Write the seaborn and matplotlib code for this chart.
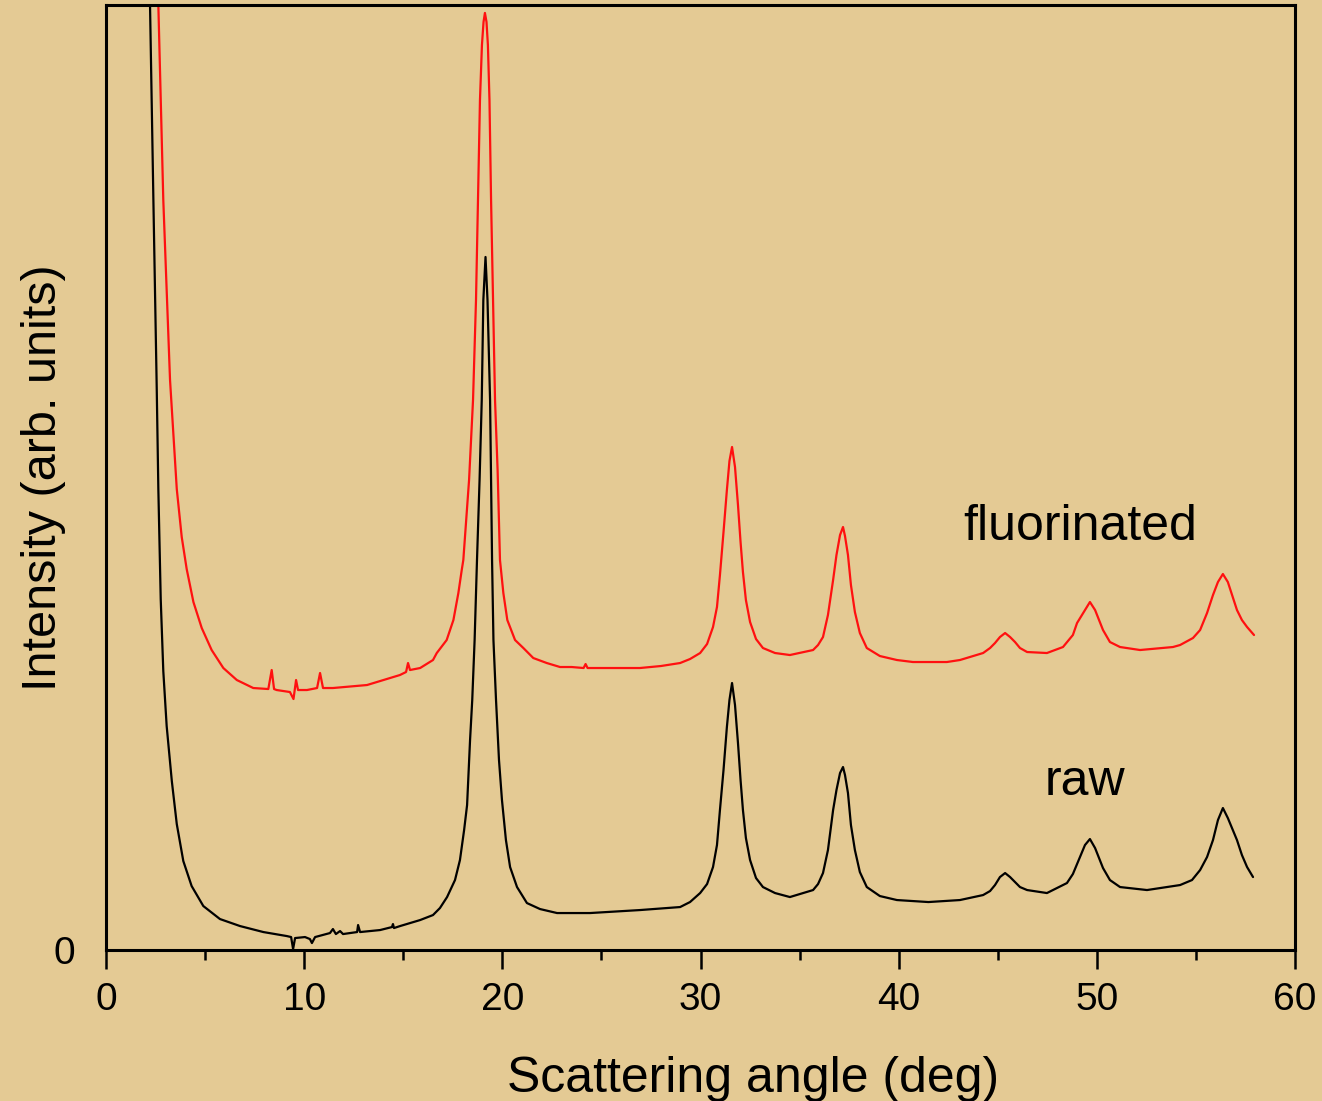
import matplotlib
matplotlib.use("Agg")
import matplotlib.pyplot as plt
import pandas as pd
import seaborn as sns
from matplotlib.ticker import MultipleLocator

# values (angle in deg, intensity in arb. units)
raw_angle = [2.19, 2.22, 2.39, 2.56, 2.64, 2.76, 2.89, 3.06, 3.32, 3.57, 3.90, 4.32,
             4.91, 5.75, 6.76, 7.94, 9.12, 9.34, 9.44, 9.54, 10.04, 10.29, 10.39, 10.55,
             11.30, 11.45, 11.60, 11.81, 11.96, 12.67, 12.72, 12.82, 13.83, 14.43, 14.48,
             14.53, 14.84, 15.85, 16.50, 16.85, 17.21, 17.61, 17.86, 18.07, 18.22, 18.37,
             18.48, 18.60, 18.72, 18.85, 18.96, 19.04, 19.15, 19.25, 19.38, 19.43, 19.48,
             19.55, 19.68, 19.83, 19.98, 20.18, 20.39, 20.74, 21.24, 21.90, 22.76, 24.42,
             26.95, 28.97, 29.47, 29.98, 30.33, 30.63, 30.83, 30.98, 31.16, 31.33, 31.46,
             31.59, 31.74, 31.89, 32.02, 32.14, 32.29, 32.50, 32.80, 33.15, 33.76, 34.51,
             35.68, 35.93, 36.18, 36.43, 36.69, 36.86, 37.04, 37.19, 37.29, 37.44, 37.59,
             37.79, 38.04, 38.39, 39.05, 39.91, 41.50, 43.09, 44.26, 44.61, 44.86, 45.11,
             45.37, 45.62, 45.87, 46.12, 46.48, 47.48, 48.49, 48.79, 49.15, 49.40, 49.65,
             49.91, 50.31, 50.66, 51.17, 52.53, 54.20, 54.80, 55.21, 55.56, 55.86, 56.11,
             56.36, 56.61, 57.07, 57.32, 57.58, 57.88]
raw_int = [980, 945, 750, 560, 461, 351, 279, 224, 169, 126, 89, 64,
           44, 31, 24, 18, 14, 13, 1, 12, 13, 11, 7, 13,
           17, 21, 16, 19, 16, 18, 25, 18, 20, 23, 26,
           22, 24, 30, 35, 42, 53, 70, 90, 120, 145, 210,
           250, 310, 390, 470, 550, 650, 693, 650, 550, 470, 390,
           310, 250, 190, 150, 110, 83, 63, 47, 41, 37, 37,
           40, 43, 48, 57, 66, 83, 105, 140, 180, 223, 250,
           267, 245, 207, 170, 140, 112, 90, 72, 63, 57, 53,
           60, 66, 77, 100, 140, 160, 177, 183, 175, 157, 125,
           100, 78, 63, 54, 50, 48, 50, 55, 59, 65, 73,
           77, 73, 68, 63, 60, 57, 67, 76, 93, 105, 111,
           102, 82, 70, 63, 60, 65, 70, 80, 93, 110, 130,
           142, 132, 110, 95, 83, 73]

fluor_angle = [2.62, 2.64, 2.89, 3.23, 3.40, 3.57, 3.82, 4.07, 4.41, 4.83, 5.33, 5.92,
               6.60, 7.43, 8.19, 8.36, 8.48, 8.61, 9.28, 9.46, 9.59, 9.69, 10.14, 10.65,
               10.80, 10.95, 11.45, 13.17, 14.83, 15.14, 15.24, 15.34, 15.85, 16.50, 16.69,
               17.19, 17.53, 17.78, 17.95, 18.03, 18.14, 18.32, 18.52, 18.67, 18.77, 18.87,
               18.97, 19.05, 19.12, 19.20, 19.27, 19.35, 19.43, 19.53, 19.63, 19.76, 19.88,
               20.05, 20.25, 20.64, 21.06, 21.56, 22.24, 22.91, 23.50, 24.10, 24.20, 24.30,
               26.94, 28.00, 28.97, 29.47, 29.98, 30.33, 30.63, 30.83, 30.98, 31.16, 31.33,
               31.46, 31.59, 31.74, 31.89, 32.02, 32.14, 32.29, 32.50, 32.80, 33.15, 33.76,
               34.51, 35.68, 35.93, 36.18, 36.43, 36.69, 36.86, 37.04, 37.19, 37.29, 37.44,
               37.59, 37.79, 38.04, 38.39, 39.05, 39.91, 40.72, 42.43, 43.09, 44.26, 44.61,
               44.86, 45.11, 45.37, 45.62, 45.87, 46.12, 46.48, 47.48, 48.29, 48.79, 49.00,
               49.40, 49.65, 49.91, 50.31, 50.66, 51.17, 52.18, 53.84, 54.20, 54.85, 55.21,
               55.56, 55.86, 56.11, 56.36, 56.61, 57.07, 57.32, 57.58, 57.93]
fluor_int = [980, 945, 750, 570, 515, 461, 413, 381, 348, 322, 300, 282,
             270, 262, 261, 280, 261, 260, 258, 251, 270, 260, 260, 262,
             277, 262, 262, 265, 275, 278, 287, 280, 282, 290, 297,
             310, 330, 357, 380, 390, 420, 470, 550, 650, 750, 850,
             905, 928, 937, 928, 905, 850, 750, 650, 550, 480, 390,
             357, 330, 310, 302, 292, 287, 283, 283, 282, 286, 282,
             282, 284, 287, 291, 297, 306, 323, 343, 375, 418, 460,
             489, 503, 483, 445, 408, 378, 350, 328, 311, 302, 297,
             295, 300, 305, 313, 335, 370, 395, 415, 423, 414, 395,
             365, 338, 317, 302, 294, 290, 288, 288, 290, 297, 302,
             307, 313, 317, 313, 308, 302, 298, 297, 303, 315, 327,
             340, 348, 340, 320, 308, 303, 300, 303, 305, 312, 320,
             337, 355, 368, 376, 368, 340, 330, 323, 315]

raw = pd.DataFrame({"angle": raw_angle, "intensity": raw_int})
fluor = pd.DataFrame({"angle": fluor_angle, "intensity": fluor_int})

sns.set_theme(style="ticks")
plt.rcParams["font.family"] = ["Liberation Sans", "DejaVu Sans"]

bg = "#E4CA94"
fig = plt.figure(figsize=(13.22, 11.01), dpi=100, facecolor=bg)
ax = fig.add_axes([0.0802, 0.1371, 0.8994, 0.8584])
ax.set_facecolor(bg)

sns.lineplot(data=raw, x="angle", y="intensity", color="black", lw=1.6,
             estimator=None, sort=False, ax=ax)
sns.lineplot(data=fluor, x="angle", y="intensity", color="#FF1010", lw=1.6,
             estimator=None, sort=False, ax=ax)

ax.set_xlim(0, 60)
ax.set_ylim(0, 945)
ax.xaxis.set_major_locator(MultipleLocator(10))
ax.xaxis.set_minor_locator(MultipleLocator(5))
ax.set_yticks([0])
ax.tick_params(axis="x", which="major", direction="out", length=14, width=1.8,
               color="black", labelsize=28, pad=9, labelcolor="black")
ax.tick_params(axis="x", which="minor", direction="out", length=7, width=1.8,
               color="black")
ax.tick_params(axis="y", length=0, labelsize=28, pad=22, labelcolor="black")

for s in ax.spines.values():
    s.set_linewidth(2.2)
    s.set_color("black")

ax.set_xlabel("Scattering angle (deg)", fontsize=36, color="black")
ax.xaxis.set_label_coords(0.544, -0.112)
ax.set_ylabel("Intensity (arb. units)", fontsize=35, color="black")
ax.yaxis.set_label_coords(-0.034, 0.5)

ax.text(49.15, 410, "fluorinated", fontsize=36, ha="center", va="baseline", color="black")
ax.text(49.4, 155, "raw", fontsize=36, ha="center", va="baseline", color="black")

fig.savefig("out.png", dpi=100, facecolor=bg)
